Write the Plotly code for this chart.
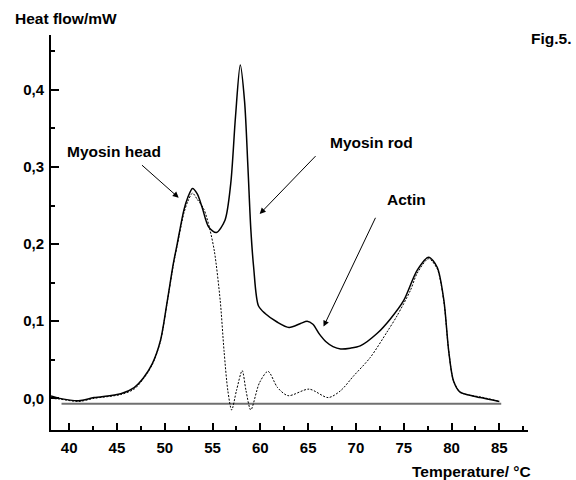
import plotly.graph_objects as go

# Solid curve (total heat flow)
solid_t = [38.1, 39.0, 41.0, 42.6, 45.4, 46.8, 47.8, 48.7, 49.55, 50.25, 50.9, 51.3, 52.0, 52.4, 52.9,
           53.4, 53.9, 54.6, 55.4, 56.3, 56.9, 57.4, 57.9, 58.35, 58.7, 59.0, 59.3, 59.8, 60.5,
           61.75, 63.0, 64.2, 64.9, 65.5, 66.2, 66.9, 67.6, 68.4, 69.4, 70.45, 72.2, 73.6, 75.0, 76.4,
           77.6, 78.5, 79.2, 79.7, 80.2, 80.9, 81.9, 83.0, 85.0]
solid_q = [0.003, 0.0, -0.003, 0.001, 0.006, 0.014, 0.027, 0.045, 0.075, 0.125, 0.175, 0.2, 0.244, 0.26, 0.272,
           0.265, 0.248, 0.222, 0.215, 0.231, 0.278, 0.365, 0.432, 0.385, 0.3, 0.22, 0.17, 0.12, 0.11,
           0.099, 0.092, 0.097, 0.100, 0.096, 0.083, 0.073, 0.067, 0.064, 0.065, 0.068, 0.084, 0.103, 0.127, 0.166,
           0.183, 0.170, 0.127, 0.062, 0.023, 0.008, 0.004, 0.001, -0.004]

# Dotted curve
dot_t = [38.1, 39.0, 41.0, 42.6, 45.4, 46.8, 47.8, 48.7, 49.55, 50.25, 50.9, 51.3, 52.0, 52.4, 52.9,
         53.4, 54.1, 54.7, 55.2, 55.8, 56.2, 56.6, 57.0, 57.5, 58.1, 58.5, 59.0, 59.9, 60.8,
         61.8, 62.9, 65.1, 67.1, 68.4, 69.75, 71.5, 73.25, 74.3, 75.7, 76.4, 77.6, 78.5, 79.2,
         79.7, 80.2, 80.9, 81.9, 83.0, 85.0]
dot_q = [0.0, -0.001, -0.004, 0.0, 0.005, 0.012, 0.026, 0.044, 0.074, 0.124, 0.173, 0.198, 0.240, 0.255, 0.266,
         0.258, 0.245, 0.22, 0.19, 0.127, 0.062, 0.01, -0.015, 0.01, 0.036, 0.01, -0.015, 0.02, 0.035,
         0.014, 0.0035, 0.012, 0.001, 0.01, 0.029, 0.053, 0.086, 0.107, 0.14, 0.162, 0.181, 0.168, 0.125,
         0.062, 0.023, 0.008, 0.004, 0.002, -0.004]

base_t = [39.2, 85.2]
base_q = [-0.007, -0.007]

x_ticks = [40, 45, 50, 55, 60, 65, 70, 75, 80, 85]
y_ticks = [0.0, 0.1, 0.2, 0.3, 0.4]

labels = ["Myosin head", "Myosin rod", "Actin"]
label_x = [44.74, 71.6, 75.26]
label_y = [0.320, 0.332, 0.258]
arrow_from_x = [47.46, 65.93, 72.12]
arrow_from_y = [0.304, 0.316, 0.236]
arrow_to_x = [51.46, 59.93, 66.61]
arrow_to_y = [0.260, 0.239, 0.093]

FONT = "Liberation Sans, Arial, sans-serif"
FS = 15.5

fig = go.Figure()
fig.add_trace(go.Scatter(x=base_t, y=base_q, mode="lines",
                         line=dict(color="#707070", width=2), hoverinfo="skip"))
fig.add_trace(go.Scatter(x=solid_t, y=solid_q, mode="lines",
                         line=dict(color="black", width=1.5, shape="spline", smoothing=0.8)))
fig.add_trace(go.Scatter(x=dot_t, y=dot_q, mode="lines",
                         line=dict(color="black", width=1, dash="2px,1.5px", shape="spline", smoothing=0.8)))

for i, lab in enumerate(labels):
    fig.add_annotation(x=label_x[i], y=label_y[i], text=lab, showarrow=False,
                       font=dict(family=FONT, size=FS, color="black", weight="bold"),
                       xanchor="center", yanchor="middle")
    fig.add_annotation(x=arrow_to_x[i], y=arrow_to_y[i], ax=arrow_from_x[i], ay=arrow_from_y[i],
                       axref="x", ayref="y", text="", showarrow=True,
                       arrowhead=2, arrowsize=1.2, arrowwidth=1, arrowcolor="black", standoff=0)

fig.add_annotation(xref="paper", yref="paper", x=-0.0797, y=1.0406, text="Heat flow/mW",
                   showarrow=False, xanchor="left", yanchor="middle",
                   font=dict(family=FONT, size=FS, color="black", weight="bold"))
fig.add_annotation(xref="paper", yref="paper", x=1.095, y=0.992, text="Fig.5.",
                   showarrow=False, xanchor="right", yanchor="middle",
                   font=dict(family=FONT, size=FS, color="black", weight="bold"))
fig.add_annotation(xref="paper", yref="paper", x=1.011, y=-0.104, text="Temperature/ °C",
                   showarrow=False, xanchor="right", yanchor="middle",
                   font=dict(family=FONT, size=FS, color="black", weight="bold"))

fig.update_layout(
    width=576, height=480,
    margin=dict(l=51, r=48, t=35, b=50),
    paper_bgcolor="white", plot_bgcolor="white",
    showlegend=False,
    separators=",.",
    font=dict(family=FONT, color="black"),
)
fig.update_xaxes(range=[38.1, 88.0], tickvals=x_ticks, ticks="inside", ticklen=7, tickwidth=1.5,
                 tickcolor="black", showline=True, linecolor="black", linewidth=2, showgrid=False,
                 zeroline=False, ticklabelstandoff=3,
                 tickfont=dict(family=FONT, size=15, color="black", weight="bold"),
                 minor=dict(dtick=2.5, tick0=37.5, ticks="inside", ticklen=4, tickwidth=1.5, tickcolor="black"))
fig.update_yaxes(range=[-0.041, 0.471], tickvals=y_ticks, tickformat=".1f", ticks="inside", ticklen=8,
                 tickwidth=1.5, tickcolor="black", showline=True, linecolor="black", linewidth=2,
                 showgrid=False, zeroline=False, ticklabelstandoff=2,
                 tickfont=dict(family=FONT, size=15, color="black", weight="bold"),
                 minor=dict(dtick=0.05, tick0=0.05, ticks="inside", ticklen=4, tickwidth=1.5, tickcolor="black"))

fig.write_html("out.html", config={"displayModeBar": False},
               post_script="document.body.style.margin='0';document.body.style.overflow='hidden';")
